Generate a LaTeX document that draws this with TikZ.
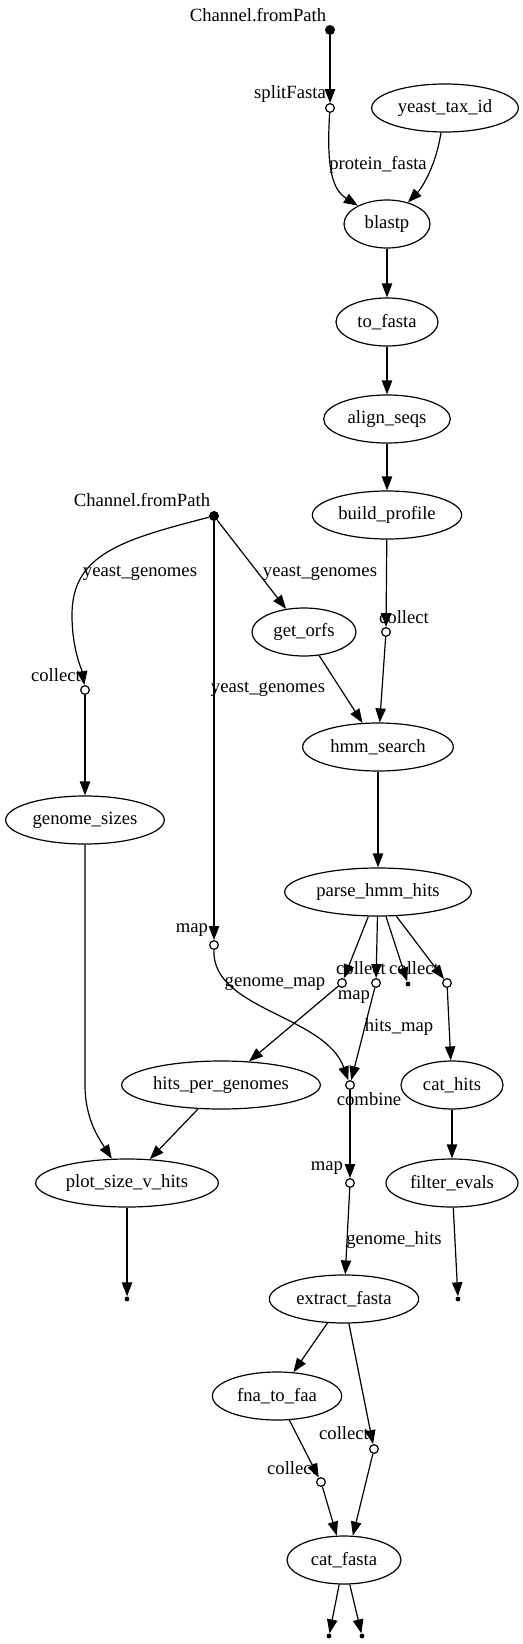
\documentclass[tikz,border=0pt]{standalone}
\usepackage{fontspec}
\setmainfont{Liberation Serif}
\usetikzlibrary{shapes.geometric, arrows.meta}

\begin{document}
\begin{tikzpicture}[
  x=0.75pt, y=-0.75pt,
  font=\fontsize{14pt}{17pt}\selectfont,
  dagline/.style={draw=black, line width=0.9pt, -{Triangle[length=10.5pt, width=7.8pt]}},
  dagproc/.style={ellipse, draw=black, line width=0.9pt, minimum height=36pt, inner sep=0pt, minimum width=#1},
  dagsrc/.style={circle, fill=black, inner sep=0pt, minimum size=7.5pt},
  dagop/.style={circle, draw=black, fill=white, line width=0.9pt, inner sep=0pt, minimum size=6.5pt},
  dagend/.style={circle, fill=black, inner sep=0pt, minimum size=3.6pt},
  lab/.style={inner sep=0pt}
]
\useasboundingbox (0,0) rectangle (523,1644);

%--------------------------------------------------------------
% Ramo delle proteine
%--------------------------------------------------------------
\node[dagsrc] (srcA) at (330,30) {};
\node[lab] (srcAlab) at (258,15) {Channel.fromPath};
\node[dagop] (split) at (330,108) {};
\node[lab] (splitlab) at (290,94) {splitFasta};
\node[dagproc=110pt] (taxid) at (445,108) {yeast\_tax\_id};
\node[dagproc=64.5pt] (blastp) at (387,224) {blastp};
\node[dagproc=76.5pt] (tofasta) at (387,322) {to\_fasta};
\node[dagproc=95pt] (align) at (387,419) {align\_seqs};
\node[dagproc=112pt] (build) at (387,515) {build\_profile};
\node[dagop] (collA) at (386,632) {};
\node[lab] (collAlab) at (404,617) {collect};

%--------------------------------------------------------------
% Ramo dei genomi
%--------------------------------------------------------------
\node[dagsrc] (srcB) at (214,516) {};
\node[lab] (srcBlab) at (142,500) {Channel.fromPath};
\node[dagproc=78pt] (orfs) at (304,632) {get\_orfs};
\node[dagop] (collB) at (85,690) {};
\node[lab] (collBlab) at (56,675) {collect};
\node[dagproc=113pt] (hmm) at (378,747) {hmm\_search};
\node[dagproc=119pt] (gsizes) at (85,820) {genome\_sizes};
\node[dagproc=140pt] (parse) at (378,892) {parse\_hmm\_hits};
\node[dagop] (mapA) at (214,945) {};
\node[lab] (mapAlab) at (192,930) {map};
\node[dagop] (collC) at (342,983) {};
\node[lab] (collClab) at (361,968) {collect};
\node[dagop] (mapB) at (376,983) {};
\node[lab] (mapBlab) at (354,997) {map};
\node[dagend] (endA) at (408,984) {};
\node[lab] (collDlab) at (414,968) {collect};
\node[dagop] (collD) at (447,983) {};
\node[dagproc=149pt] (hpg) at (221,1085) {hits\_per\_genomes};
\node[dagop] (comb) at (350,1085) {};
\node[lab] (comblab) at (369,1099) {combine};
\node[dagproc=76.5pt] (cathits) at (452,1085) {cat\_hits};
\node[dagproc=137pt] (plot) at (127,1183) {plot\_size\_v\_hits};
\node[dagop] (mapC) at (350,1183) {};
\node[lab] (mapClab) at (327,1168) {map};
\node[dagproc=99pt] (filter) at (452,1183) {filter\_evals};
\node[dagend] (endB) at (127,1299) {};
\node[dagend] (endC) at (458,1299) {};
\node[dagproc=112pt] (extract) at (344,1299) {extract\_fasta};
\node[dagproc=97pt] (fna) at (277,1396) {fna\_to\_faa};
\node[dagop] (collE) at (374,1449) {};
\node[lab] (collElab) at (344,1433) {collect};
\node[dagop] (collF) at (321,1482) {};
\node[lab] (collFlab) at (292,1468) {collect};
\node[dagproc=85.5pt] (catfasta) at (344,1560) {cat\_fasta};
\node[dagend] (endD) at (329,1636) {};
\node[dagend] (endE) at (362,1636) {};

% etichette dei canali
\node[lab] (lpf) at (378,165) {protein\_fasta};
\node[lab] (lygA) at (140,573) {yeast\_genomes};
\node[lab] (lygB) at (320,573) {yeast\_genomes};
\node[lab] (lygC) at (268,689) {yeast\_genomes};
\node[lab] (lgm) at (275,984) {genome\_map};
\node[lab] (lhm) at (399,1027) {hits\_map};
\node[lab] (lgh) at (394,1240) {genome\_hits};

%--------------------------------------------------------------
% Archi
%--------------------------------------------------------------
\foreach \a/\b in {srcA/split, blastp/tofasta, tofasta/align, align/build,
  build/collA, collA/hmm, srcB/orfs, orfs/hmm, srcB/mapA, collB/gsizes,
  hmm/parse, parse/collC, parse/mapB, parse/endA, parse/collD, collC/hpg,
  mapB/comb, collD/cathits, hpg/plot, cathits/filter, plot/endB, filter/endC,
  comb/mapC, mapC/extract, extract/fna, extract/collE, fna/collF,
  collF/catfasta, catfasta/endD, catfasta/endE}{
  \draw[dagline] (\a) -- (\b);
}

% archi curvi
\draw[dagline] (split) .. controls (326,170) and (333,190) .. (blastp);
\draw[dagline] (taxid) .. controls (435,170) and (420,190) .. (blastp);
\draw[dagline] (srcB) .. controls (120,540) and (72,555) .. (72,615)
  .. controls (72,650) and (82,670) .. (collB);
\draw[dagline] (mapA) .. controls (212,1010) and (325,1015) .. (comb);
\draw[dagline] (gsizes) -- (85,1085) .. controls (85,1120) and (100,1140) .. (plot);
\draw[dagline] (collE) -- (catfasta.70);

\end{tikzpicture}
\end{document}
